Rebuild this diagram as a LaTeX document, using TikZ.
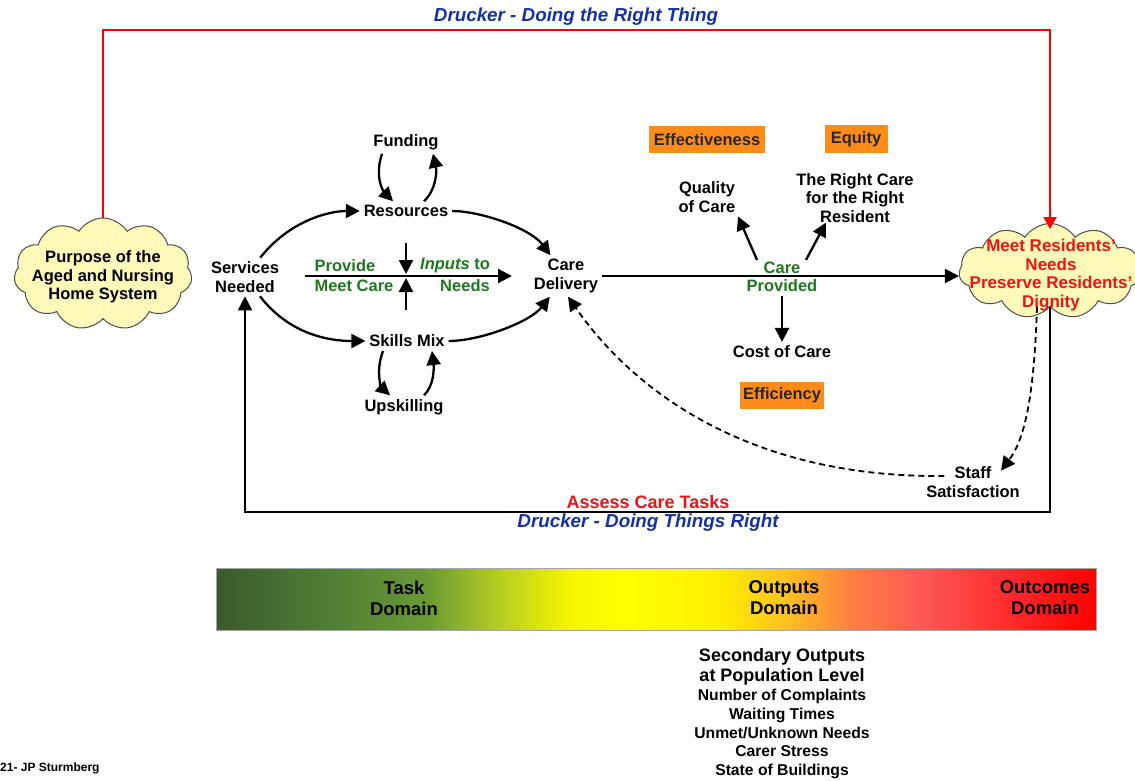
\documentclass[tikz,border=0pt]{standalone}
\usepackage{fontspec}
\setmainfont{Liberation Sans}
\usetikzlibrary{arrows.meta,shapes.symbols}

\definecolor{cloudfill}{RGB}{255,250,185}
\definecolor{provgreen}{RGB}{30,120,30}
\definecolor{titleblue}{RGB}{20,50,165}
\definecolor{boxorange}{RGB}{255,140,26}
\definecolor{alertred}{RGB}{238,20,20}

% colour stops of the domain scale (task -> outputs -> outcomes)
\definecolor{ds0}{RGB}{59,90,43}
\definecolor{ds1}{RGB}{79,127,54}
\definecolor{ds2}{RGB}{106,154,53}
\definecolor{ds3}{RGB}{181,204,34}
\definecolor{ds4}{RGB}{245,245,0}
\definecolor{ds5}{RGB}{255,255,0}
\definecolor{ds6}{RGB}{255,240,0}
\definecolor{ds7}{RGB}{255,192,32}
\definecolor{ds8}{RGB}{255,128,64}
\definecolor{ds9}{RGB}{255,88,88}
\definecolor{ds10}{RGB}{255,48,48}
\definecolor{ds11}{RGB}{255,0,0}
\pgfdeclarehorizontalshading{domainscale}{100bp}{
  color(0bp)=(ds0); color(25bp)=(ds0); color(31.5bp)=(ds1); color(37bp)=(ds2);
  color(41bp)=(ds3); color(45bp)=(ds4); color(48bp)=(ds5); color(53.5bp)=(ds6);
  color(57.5bp)=(ds7); color(61bp)=(ds8); color(65bp)=(ds9); color(69.5bp)=(ds10);
  color(75bp)=(ds11); color(100bp)=(ds11)}

\begin{document}
\begin{tikzpicture}[x=1pt,y=-1pt,
  lbl/.style={font=\bfseries\fontsize{16.5}{18.5}\selectfont, align=center, inner sep=1pt, outer sep=3pt},
  grn/.style={lbl, text=provgreen},
  bigtip/.style={-{Triangle[length=14pt,width=14pt]}},
  arr/.style={line width=2.3pt, bigtip},
  dasharr/.style={line width=1.8pt, dash pattern=on 6pt off 4pt, bigtip},
  tagbox/.style={fill=boxorange, text=black!85, font=\bfseries\fontsize{16.5}{18.5}\selectfont, inner sep=0pt},
  puff/.style={cloud, cloud puffs=11, cloud puff arc=115, cloud ignores aspect, draw=black!70, line width=1pt, fill=cloudfill, inner sep=0pt},
  drucker/.style={font=\bfseries\itshape\fontsize{18.8}{20}\selectfont, text=titleblue},
  domtxt/.style={font=\bfseries\fontsize{18.5}{21}\selectfont, align=center, inner sep=0pt},
]
\useasboundingbox (0,0) rectangle (1135,781);

% clouds: purpose and aim of the system
\node[puff, minimum width=178pt, minimum height=112pt] (purpose) at (103,274) {};
\node[lbl] (purposetxt) at (103,277) {Purpose of the\\Aged and Nursing\\Home System};
\node[puff, minimum width=182pt, minimum height=95pt] (meet) at (1050,271) {};
\node[lbl, text=alertred, font=\bfseries\fontsize{17}{18.7}\selectfont] (meettxt) at (1051,275)
  {Meet Residents’\\Needs\\Preserve Residents’\\Dignity};

% doing the right thing
\coordinate (redtop) at (576,30);
\draw[red, line width=2pt, -{Triangle[length=12pt,width=13pt]}] (purpose.north) |- (redtop) -| ([yshift=-6pt]meet.north);
\node[drucker] (rightthing) at (576,17) {Drucker - Doing the Right Thing};

% inputs side
\node[lbl] (services) at (245,277) {Services\\Needed};
\node[lbl] (resources) at (406,211) {Resources};
\node[lbl] (funding) at (406,142) {Funding};
\node[lbl] (skills) at (407,341) {Skills Mix};
\node[lbl] (upskill) at (404,407) {Upskilling};
\node[lbl] (care) at (566,276) {Care\\Delivery};

\draw[arr] (services) .. controls (290,220) and (330,211) .. (resources);
\draw[arr] (resources) .. controls (480,211) and (530,228) .. (care);
\draw[arr] (services) .. controls (290,335) and (330,341) .. (skills);
\draw[arr] (skills) .. controls (480,341) and (530,322) .. (care);

\draw[arr] ([xshift=-24pt]funding.south) .. controls (374,178) and (384,192) .. ([xshift=-13pt]resources.north);
\draw[arr] ([xshift=18pt]resources.north) .. controls (436,190) and (437,172) .. ([xshift=27pt]funding.south);
\draw[arr] ([xshift=-24pt]skills.south) .. controls (375,372) and (382,388) .. ([xshift=-14pt]upskill.north);
\draw[arr] ([xshift=20pt]upskill.north) .. controls (434,386) and (434,368) .. ([xshift=25pt]skills.south);

% provide inputs to meet care needs
\coordinate (hstart) at (305,276);
\coordinate (hend) at (512,276);
\coordinate (vtop) at (406,243);
\coordinate (vtopend) at (406,274);
\coordinate (vbot) at (406,310);
\coordinate (vbotend) at (406,278);
\draw[arr] (hstart) -- (hend);
\draw[arr] (vtop) -- (vtopend);
\draw[arr] (vbot) -- (vbotend);
\node[grn] (provide) at (345,266) {Provide};
\node[grn] (meetcare) at (354,286) {Meet Care};
\node[grn] (inputs) at (455,266) {\itshape Inputs\upshape{} to};
\node[grn] (needs) at (465,286) {Needs};

% care provided and its dimensions
\node[grn] (careprov) at (782,277) {Care\\Provided};
\node[lbl] (quality) at (707,197) {Quality\\of Care};
\node[lbl] (rightcare) at (855,198) {The Right Care\\for the Right\\Resident};
\node[lbl] (cost) at (782,352) {Cost of Care};
\node[tagbox, minimum width=116pt, minimum height=27pt] (effect) at (707,140) {Effectiveness};
\node[tagbox, minimum width=63pt, minimum height=28pt] (equity) at (856,139) {Equity};
\node[tagbox, minimum width=84pt, minimum height=27pt] (effic) at (782,395) {Efficiency};

\draw[line width=2.3pt, bigtip] (care.east) -- (care.east -| meet.west);
\draw[arr] ([xshift=-25pt,yshift=-2pt]careprov.north) -- ([xshift=31pt]quality.south);
\draw[arr] ([xshift=24pt,yshift=-2pt]careprov.north) -- ([xshift=-29pt,yshift=4pt]rightcare.south);
\draw[arr] (careprov.south) -- (cost.north);

% staff satisfaction feedback
\node[lbl] (staff) at (973,482) {Staff\\Satisfaction};
\draw[dasharr] ([xshift=-13pt]meet.south) .. controls (1034,400) and (1024,440) .. ([xshift=28pt,yshift=-8pt]staff.north);
\draw[dasharr] ([xshift=22pt,yshift=6pt]staff.west) .. controls (760,478) and (640,400) .. ([xshift=2pt]care.south);

% doing things right
\coordinate (loopbase) at (648,512);
\draw[line width=2pt, bigtip] (meet.south) |- (loopbase) -| (services.south);
\node[lbl, text=alertred, font=\bfseries\fontsize{18}{20}\selectfont] (assess) at (648,502) {Assess Care Tasks};
\node[drucker] (thingsright) at (648,523) {Drucker - Doing Things Right};

% domain scale
\shade[shading=domainscale] (216,568) rectangle (1096,630);
\draw[black!35, line width=0.6pt] (216,568) rectangle (1096,630);
\node[domtxt] (task) at (404,598) {Task\\Domain};
\node[domtxt] (outputs) at (784,598) {Outputs\\Domain};
\node[domtxt] (outcomes) at (1045,598) {Outcomes\\Domain};

% secondary outputs
\node[font=\bfseries\fontsize{18}{20}\selectfont, align=center, inner sep=0pt] (sectitle) at (782,667)
  {Secondary Outputs\\at Population Level};
\node[font=\bfseries\fontsize{15.7}{18.6}\selectfont, align=center, inner sep=0pt] (seclist) at (782,734)
  {Number of Complaints\\Waiting Times\\Unmet/Unknown Needs\\Carer Stress\\State of Buildings};

\node[font=\bfseries\fontsize{12}{14}\selectfont, anchor=west, inner sep=0pt] (credit) at (0,768) {21- JP Sturmberg};
\end{tikzpicture}
\end{document}
